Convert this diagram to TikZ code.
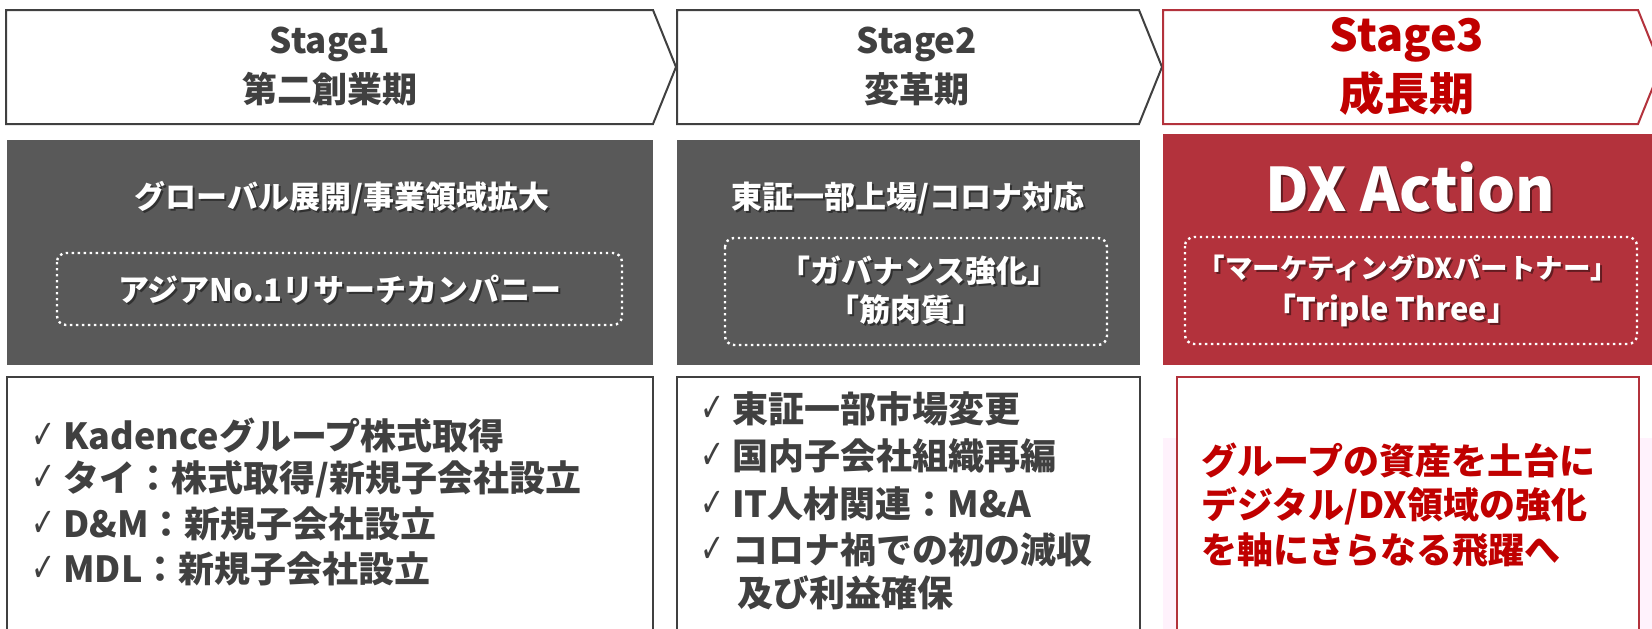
\documentclass[tikz,border=0pt]{standalone}
\usepackage{fontspec}
\usepackage{graphicx}
\newfontfamily\jp{Noto Sans CJK JP}
\newfontfamily\sym{DejaVu Sans}
\definecolor{hdrgray}{HTML}{404040}
\definecolor{boxgray}{HTML}{595959}
\definecolor{boxred}{HTML}{B3323C}
\definecolor{txtred}{HTML}{C00000}
\definecolor{pinkbg}{RGB}{255,242,252}
\newcommand\chk{\raisebox{1pt}{\scalebox{0.72}[1]{\sym\mdseries\fontsize{40}{40}\selectfont\textcolor{hdrgray}{✓}}}\hspace{8pt}}
\newcommand\wtext[5][]{%
  \node[wtxt,#1,text=black,opacity=0.45] (#2s) at (#3+2,#4+2) {#5};
  \node[wtxt,#1] (#2) at (#3,#4) {#5};}
\begin{document}
\begin{tikzpicture}[x=1pt,y=-1pt,
  chev/.style={draw=hdrgray,line width=2pt,fill=white,line join=miter},
  chevred/.style={draw=boxred,line width=2pt,fill=white,line join=miter},
  dotbox/.style={draw=white,line width=2.4pt,dash pattern=on 2.4pt off 3.6pt,rounded corners=9pt},
  botbox/.style={draw=hdrgray,line width=1.6pt,fill=white},
  botboxred/.style={draw=boxred,line width=1.6pt,fill=white},
  hdr/.style={text=hdrgray,inner sep=0pt,font=\jp\bfseries\fontsize{35}{40}\selectfont},
  hdrred/.style={text=txtred,inner sep=0pt,font=\jp\bfseries\fontsize{45}{50}\selectfont},
  wtxt/.style={text=white,inner sep=0pt,font=\jp\bfseries\fontsize{31}{38}\selectfont},
  btxt/.style={anchor=west,text=hdrgray,inner sep=0pt,font=\jp\bfseries\fontsize{36}{44}\selectfont},
  rtxt/.style={anchor=west,text=txtred,inner sep=0pt,font=\jp\bfseries\fontsize{36}{44}\selectfont}]
\useasboundingbox (0,0) rectangle (1652,629);
\fill[white] (0,0) rectangle (1652,629);
% chevrons
\draw[chev] (6,10) -- (653,10) -- (676,67) -- (653,124) -- (6,124) -- cycle;
\draw[chev] (677,10) -- (1139,10) -- (1162,67) -- (1139,124) -- (677,124) -- cycle;
\draw[chevred] (1163,10) -- (1638,10) -- (1661,67) -- (1638,124) -- (1163,124) -- cycle;
\node[hdr] (h1a) at (330,44) {Stage1};
\node[hdr] (h1b) at (330,89) {第二創業期};
\node[hdr] (h2a) at (917,44) {Stage2};
\node[hdr] (h2b) at (917,89) {変革期};
\node[hdrred] (h3a) at (1407,40) {Stage3};
\node[hdrred] (h3b) at (1407,93) {成長期};
% middle boxes
\fill[boxgray] (7,140) rectangle (653,365);
\fill[boxgray] (677,140) rectangle (1140,365);
\fill[boxred] (1163,134) rectangle (1652,365);
\draw[dotbox] (57,253) rectangle (622,325);
\draw[dotbox] (725,238) rectangle (1107,345);
\draw[dotbox] (1185,237) rectangle (1637,344);
\wtext{g1a}{342}{198}{グローバル展開/事業領域拡大}
\wtext{g1b}{340}{289}{アジアNo.1リサーチカンパニー}
\wtext{g2a}{908}{198}{東証一部上場/コロナ対応}
\wtext{g2b}{919}{271}{「ガバナンス強化」}
\wtext{g2c}{906}{310}{「筋肉質」}
\wtext[font=\jp\bfseries\fontsize{60}{66}\selectfont]{g3a}{1410}{187}{DX Action}
\wtext[font=\jp\bfseries\fontsize{27.5}{32}\selectfont]{g3b}{1408}{268}{「マーケティングDXパートナー」}
\wtext[font=\jp\bfseries\fontsize{31}{36}\selectfont]{g3c}{1392}{310}{「Triple Three」}
% bottom boxes
\fill[pinkbg] (1163,438) rectangle (1652,629);
\draw[botbox] (7,377) rectangle (653,645);
\draw[botbox] (677,377) rectangle (1140,645);
\draw[botboxred] (1177,377) rectangle (1639,645);
\node[btxt] (b1a) at (31,435) {\chk Kadenceグループ株式取得};
\node[btxt] (b1b) at (31,479) {\chk タイ：株式取得/新規子会社設立};
\node[btxt] (b1c) at (31,524) {\chk D\&M：新規子会社設立};
\node[btxt] (b1d) at (31,569) {\chk MDL：新規子会社設立};
\node[btxt] (b2a) at (700,409) {\chk 東証一部市場変更};
\node[btxt] (b2b) at (700,456) {\chk 国内子会社組織再編};
\node[btxt] (b2c) at (700,504) {\chk IT人材関連：M\&A};
\node[btxt] (b2d) at (700,550) {\chk コロナ禍での初の減収};
\node[btxt] (b2e) at (737,593) {及び利益確保};
\node[rtxt] (r1) at (1201,460) {グループの資産を土台に};
\node[rtxt] (r2) at (1201,506) {デジタル/DX領域の強化};
\node[rtxt] (r3) at (1201,550) {を軸にさらなる飛躍へ};
\end{tikzpicture}
\end{document}
